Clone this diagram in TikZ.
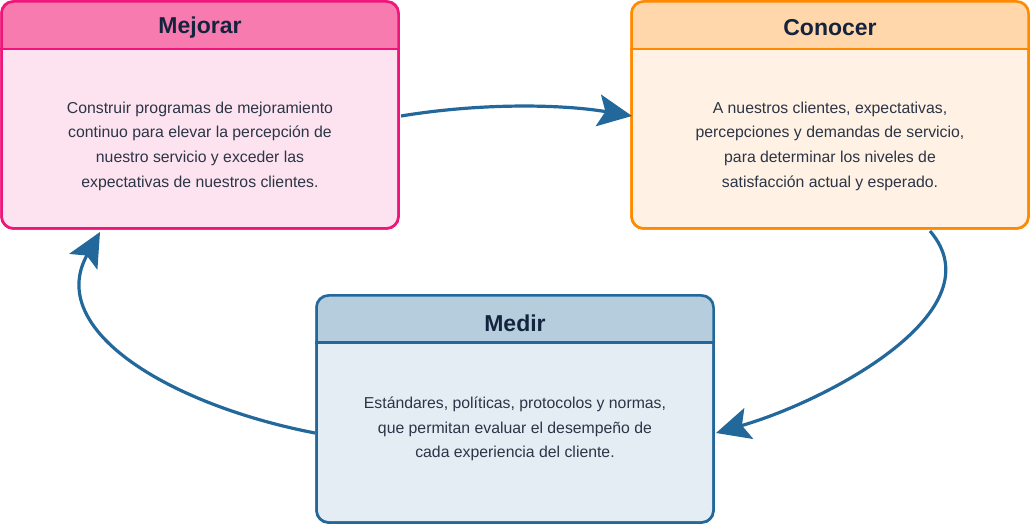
\documentclass[tikz,border=0pt]{standalone}
\usepackage{fontspec}
\setmainfont{Liberation Sans}
\usetikzlibrary{arrows.meta,calc}
\definecolor{pinkB}{HTML}{F0157B}
\definecolor{pinkH}{HTML}{F87BB0}
\definecolor{pinkF}{HTML}{FDE3EF}
\definecolor{oraB}{HTML}{FF8A00}
\definecolor{oraH}{HTML}{FFD7AA}
\definecolor{oraF}{HTML}{FFF1E3}
\definecolor{bluB}{HTML}{23689B}
\definecolor{bluH}{HTML}{B5CDDD}
\definecolor{bluF}{HTML}{E5EDF4}
\definecolor{ttl}{HTML}{14243F}
\definecolor{txt}{HTML}{2B3547}
\tikzset{
  frame/.style={draw=#1, line width=2.5pt, rounded corners=12pt, minimum width=397pt, minimum height=227pt, inner sep=0pt},
  ttlnode/.style={text=ttl, font=\bfseries\fontsize{23}{27}\selectfont},
  bodynode/.style={text=txt, align=center, font=\fontsize{15.8}{24.7}\selectfont},
  flow/.style={draw=bluB, line width=3.2pt, -{Stealth[length=34pt,width=32pt,inset=7pt]}}
}
\newcommand{\mkbox}[6]{% name, center, border, header, fill, header height
  \node[frame=#3, fill=#5] (#1) at #2 {};
  \begin{scope}
    \clip[rounded corners=12pt] (#1.south west) rectangle (#1.north east);
    \fill[#4] (#1.north west) rectangle ($(#1.north east)+(0,-#6)$);
  \end{scope}
  \draw[#3, line width=2.5pt] ($(#1.north west)+(0,-#6)$) -- ($(#1.north east)+(0,-#6)$);
  \node[frame=#3] at (#1) {};
}
\begin{document}
\begin{tikzpicture}[x=1pt,y=-1pt]
\useasboundingbox (0,0) rectangle (1030,526);
\mkbox{mej}{(200,115)}{pinkB}{pinkH}{pinkF}{49pt}
\mkbox{con}{(830,115)}{oraB}{oraH}{oraF}{49pt}
\mkbox{med}{(515,409)}{bluB}{bluH}{bluF}{48pt}
\node[ttlnode] (mejT) at (200,28) {Mejorar};
\node[ttlnode] (conT) at (830,28) {Conocer};
\node[ttlnode] (medT) at (515,323) {Medir};
\node[bodynode] (mejB) at (200,146) {Construir programas de mejoramiento\\continuo para elevar la percepción de\\nuestro servicio y exceder las\\expectativas de nuestros clientes.};
\node[bodynode] (conB) at (830,146) {A nuestros clientes, expectativas,\\percepciones y demandas de servicio,\\para determinar los niveles de\\satisfacción actual y esperado.};
\node[bodynode] (medB) at (515,429) {Estándares, políticas, protocolos y normas,\\que permitan evaluar el desempeño de\\cada experiencia del cliente.};
\coordinate (a1s) at (401,116);
\coordinate (a1e) at (632,116);
\coordinate (a2s) at (930,231);
\coordinate (a2e) at (716,433);
\coordinate (a3s) at (315,433);
\coordinate (a3e) at (100,232);
\draw[flow] (a1s) .. controls (480,103) and (560,104) .. (a1e);
\draw[flow] (a2s) .. controls (998,310) and (830,400) .. (a2e);
\draw[flow] (a3s) .. controls (170,405) and (45,330) .. (a3e);
\end{tikzpicture}
\end{document}
